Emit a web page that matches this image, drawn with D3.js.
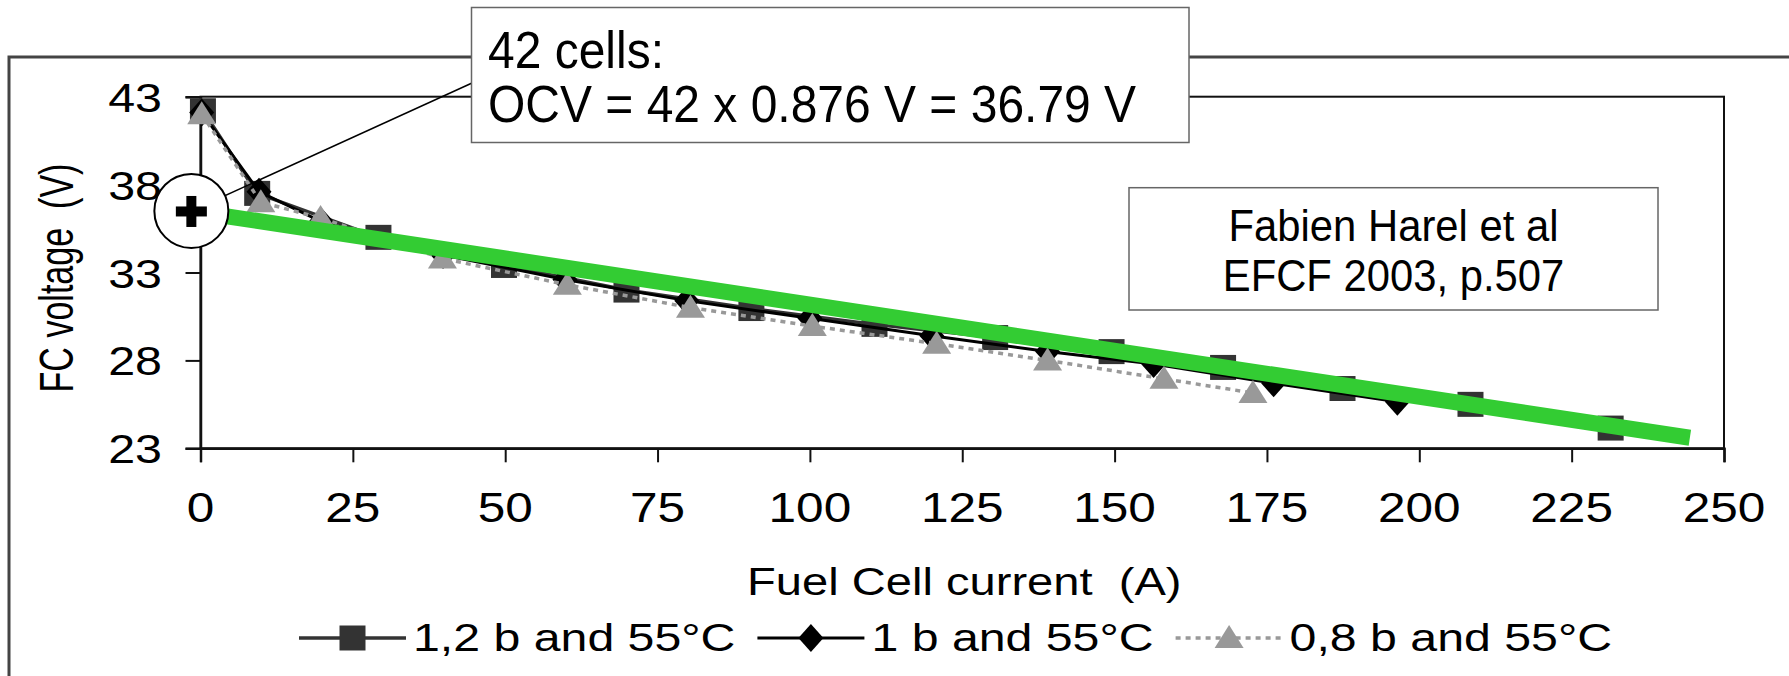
<!DOCTYPE html>
<html><head><meta charset="utf-8">
<script src="https://cdn.jsdelivr.net/npm/d3@7"></script>
<style>
html,body{margin:0;padding:0;background:#fff;}
svg{display:block;}
text{font-family:"Liberation Sans", Arial, sans-serif; fill:#000; white-space:pre;}
</style>
</head><body>
<svg id="c" width="1789" height="676"></svg>
<script>
// ---------- data ----------
const sqI = [0.4, 9.3, 29.2, 49.8, 69.9, 90.4, 110.6, 130.4, 149.5, 167.8, 187.4, 208.4, 231.4];
const sqV = [42.2, 37.5, 35.0, 33.4, 32.0, 30.95, 30.05, 29.3, 28.5, 27.6, 26.4, 25.5, 24.15];
const diI = [0.2, 9.6, 19.8, 39.8, 59.8, 79.8, 100.0, 120.0, 139.0, 156.4, 176.1, 196.4];
const diV = [42.1, 37.6, 35.9, 34.0, 32.6, 31.4, 30.4, 29.4, 28.5, 27.8, 26.7, 25.65];
const trI = [0.2, 9.9, 19.7, 39.7, 60.2, 80.4, 100.4, 120.8, 139.0, 158.1, 172.7];
const trV = [42.0, 37.0, 36.1, 33.8, 32.3, 31.0, 29.95, 28.95, 28.0, 26.95, 26.15];
const fitI = [-1.5, 244.4];
const fitV = [36.5, 23.6];
const xTicks = [0, 25, 50, 75, 100, 125, 150, 175, 200, 225, 250];
const yTicks = [23, 28, 33, 38, 43];
const seriesNames = ["1,2 b and 55°C", "1 b and 55°C", "0,8 b and 55°C"];
const xTitle = "Fuel Cell current  (A)";
const yTitle = "FC voltage  (V)";
const noteLines = ["42 cells:", "OCV = 42 x 0.876 V = 36.79 V"];
const citeLines = ["Fabien Harel et al", "EFCF 2003, p.507"];

// ---------- layout ----------
const svg = d3.select("#c");
const x = d3.scaleLinear().domain([0, 250]).range([200.5, 1724]);
const y = d3.scaleLinear().domain([23, 43]).range([448.3, 96.7]);

svg.append("rect").attr("width", 1789).attr("height", 676).attr("fill", "#fff");

// outer frame (cropped at right/bottom)
svg.append("rect").attr("x", 9).attr("y", 57).attr("width", 1800).attr("height", 700)
  .attr("fill", "none").attr("stroke", "#444").attr("stroke-width", 3);

// plot frame
svg.append("rect").attr("x", x(0)).attr("y", y(43)).attr("width", x(250) - x(0)).attr("height", y(23) - y(43))
  .attr("fill", "#fff").attr("stroke", "#111").attr("stroke-width", 2);

// axes ticks
const ya = svg.append("g").attr("transform", `translate(${x(0)},0)`)
  .call(d3.axisLeft(y).tickValues(yTicks).tickSize(15).tickFormat(""));
const xa = svg.append("g").attr("transform", `translate(0,${y(23)})`)
  .call(d3.axisBottom(x).tickValues(xTicks).tickSize(14).tickFormat(""));
[ya, xa].forEach(a => { a.select(".domain").attr("stroke", "#111").attr("stroke-width", 2.5);
  a.selectAll(".tick line").attr("stroke", "#111").attr("stroke-width", 2); });

// tick labels
svg.append("g").selectAll("text").data(yTicks).join("text")
  .attr("transform", d => `translate(162,${y(d) + 15}) scale(1.18,1)`)
  .attr("text-anchor", "end").attr("font-size", 41).text(d => d);
svg.append("g").selectAll("text").data(xTicks).join("text")
  .attr("transform", d => `translate(${x(d)},522) scale(1.18,1)`)
  .attr("text-anchor", "middle").attr("font-size", 42).text(d => d);

// axis titles
svg.append("text").attr("transform", `translate(${(x(0) + x(250)) / 2 + 2},595) scale(1.24,1)`)
  .attr("text-anchor", "middle").attr("font-size", 38).text(xTitle);
svg.append("text").attr("transform", `translate(73,278) scale(1.28,0.92) rotate(-90)`)
  .attr("text-anchor", "middle").attr("font-size", 37).text(yTitle);

// series
const line = d3.line().x(d => x(d[0])).y(d => y(d[1]));
const sq = sqI.map((v, i) => [v, sqV[i]]);
const di = diI.map((v, i) => [v, diV[i]]);
const tr = trI.map((v, i) => [v, trV[i]]);

const sqPath = "M-13,-12.5H13V12.5H-13Z";
const diPath = "M0,-14L12.5,0L0,14L-12.5,0Z";
const trPath = "M0,-13L14.5,10L-14.5,10Z";

function drawSeries(pts, color, dash, width, shape, mcolor) {
  const g = svg.append("g");
  g.append("path").attr("d", line(pts)).attr("fill", "none").attr("stroke", color)
    .attr("stroke-width", width).attr("stroke-dasharray", dash);
  g.selectAll("path.m").data(pts).join("path").attr("class", "m")
    .attr("transform", d => `translate(${x(d[0])},${y(d[1])})`).attr("d", shape).attr("fill", mcolor);
}
drawSeries(sq, "#333", null, 3.5, sqPath, "#333");
drawSeries(di, "#000", null, 3, diPath, "#000");
drawSeries(tr, "#999", "5,5", 3.5, trPath, "#999");

// fitted OCV line
const fit = fitI.map((v, i) => [v, fitV[i]]);
svg.append("path").attr("d", line(fit)).attr("stroke", "#33CC33").attr("stroke-width", 16).attr("fill", "none");

// callout
const cx = x(fitI[0]), cy = y(fitV[0]);
svg.append("line").attr("x1", cx).attr("y1", cy).attr("x2", 471.5).attr("y2", 83.3)
  .attr("stroke", "#000").attr("stroke-width", 1.5);
svg.append("circle").attr("cx", cx).attr("cy", cy).attr("r", 37)
  .attr("fill", "#fff").attr("stroke", "#000").attr("stroke-width", 2);
svg.append("rect").attr("x", cx - 15.5).attr("y", cy - 4.5).attr("width", 31).attr("height", 10).attr("fill", "#000");
svg.append("rect").attr("x", cx - 5).attr("y", cy - 15).attr("width", 10).attr("height", 31).attr("fill", "#000");

// annotation box
svg.append("rect").attr("x", 471.5).attr("y", 7.5).attr("width", 717.5).attr("height", 135)
  .attr("fill", "#fff").attr("stroke", "#666").attr("stroke-width", 1.5);
svg.append("g").selectAll("text").data(noteLines).join("text")
  .attr("transform", (d, i) => `translate(488,${68 + i * 54}) scale(0.923,1)`)
  .attr("font-size", 52).text(d => d);

// citation box
svg.append("rect").attr("x", 1129).attr("y", 187.7).attr("width", 529).attr("height", 122.3)
  .attr("fill", "#fff").attr("stroke", "#666").attr("stroke-width", 1.5);
svg.append("g").selectAll("text").data(citeLines).join("text")
  .attr("transform", (d, i) => `translate(1393.5,${241 + i * 50}) scale(0.95,1)`)
  .attr("text-anchor", "middle").attr("font-size", 44).text(d => d);

// legend
const legY = 638;
const legend = svg.append("g");
const shapes = [
  {color: "#333", dash: null, w: 3.5, shape: sqPath},
  {color: "#000", dash: null, w: 3, shape: diPath},
  {color: "#999", dash: "5,5", w: 3.5, shape: trPath}
];
let lx = 299;
seriesNames.forEach((name, i) => {
  const s = shapes[i];
  legend.append("line").attr("x1", lx).attr("x2", lx + 107).attr("y1", legY).attr("y2", legY)
    .attr("stroke", s.color).attr("stroke-width", s.w).attr("stroke-dasharray", s.dash);
  legend.append("path").attr("transform", `translate(${lx + 53.5},${legY})`).attr("d", s.shape).attr("fill", s.color);
  const t = legend.append("text").attr("transform", `translate(${lx + 114},${legY + 13}) scale(1.27,1)`)
    .attr("font-size", 38).text(name);
  const w = t.node().getComputedTextLength() * 1.27;
  lx = lx + 114 + w + 22;
});
</script>
</body></html>
